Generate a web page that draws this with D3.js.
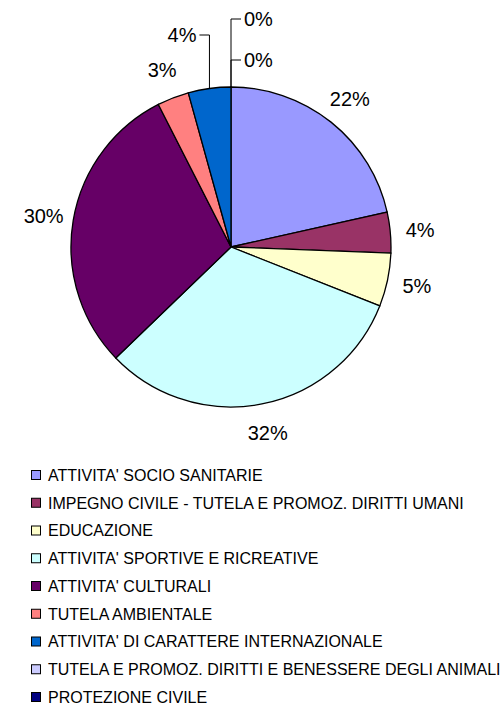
<!DOCTYPE html>
<html>
<head>
<meta charset="utf-8">
<script src="https://cdn.jsdelivr.net/npm/d3@7"></script>
<style>
  html, body { margin: 0; padding: 0; background: #fff; }
  svg { display: block; font-family: "Liberation Sans", Arial, sans-serif; }
  .slice { stroke: #000; stroke-width: 1.3; }
  .lbl { font-size: 20px; fill: #000; }
  .leader { stroke: #000; stroke-width: 1; fill: none; }
  .leg text { font-size: 16px; fill: #000; }
  .leg rect { stroke: #000; stroke-width: 1; }
</style>
</head>
<body>
<svg id="chart" width="502" height="705"></svg>
<script>
// ── Data ─────────────────────────────────────────────────────────
const categories = [
  "ATTIVITA' SOCIO SANITARIE",
  "IMPEGNO CIVILE - TUTELA E PROMOZ. DIRITTI UMANI",
  "EDUCAZIONE",
  "ATTIVITA' SPORTIVE E RICREATIVE",
  "ATTIVITA' CULTURALI",
  "TUTELA AMBIENTALE",
  "ATTIVITA' DI CARATTERE INTERNAZIONALE",
  "TUTELA E PROMOZ. DIRITTI E BENESSERE DEGLI ANIMALI",
  "PROTEZIONE CIVILE"
];
const values = [21.5, 4.1, 5.4, 31.8, 29.7, 3.2, 4.3, 0, 0];
const colors = ["#9999FF", "#993366", "#FFFFCC", "#CCFFFF", "#660066",
                "#FF8080", "#0066CC", "#CCCCFF", "#000080"];

// ── Config ───────────────────────────────────────────────────────
const CX = 231, CY = 247, R = 160;
const LABEL_R = 190;
// labels pulled out with a leader line: vertical offset of the elbow, side
const leaders = { 6: { dy: -212, side: -1 }, 7: { dy: -187, side: 1 }, 8: { dy: -228, side: 1 } };

const svg = d3.select("#chart");
const g = svg.append("g").attr("transform", `translate(${CX},${CY})`);

const pie = d3.pie().sort(null).value(d => d);
const arcs = pie(values);
const arc = d3.arc().innerRadius(0).outerRadius(R);

g.selectAll("path.slice")
  .data(arcs.filter(d => d.value > 0))
  .join("path")
  .attr("class", "slice")
  .attr("fill", d => colors[d.index])
  .attr("d", arc);

// ── Labels ───────────────────────────────────────────────────────
const pct = d3.format(".0f");
arcs.forEach(d => {
  const a = (d.startAngle + d.endAngle) / 2;
  const txt = pct(d.value) + "%";
  const ld = leaders[d.index];
  if (!ld) {
    g.append("text").attr("class", "lbl")
      .attr("x", Math.sin(a) * LABEL_R)
      .attr("y", -Math.cos(a) * LABEL_R)
      .attr("text-anchor", "middle")
      .attr("dy", "0.35em")
      .text(txt);
    return;
  }
  const px = Math.sin(a) * R, py = -Math.cos(a) * R;
  const ex = px + ld.side * 10;
  g.append("path").attr("class", "leader")
    .attr("d", `M${px},${py}L${px},${ld.dy}L${ex},${ld.dy}`);
  g.append("text").attr("class", "lbl")
    .attr("x", ex + ld.side * 3)
    .attr("y", ld.dy)
    .attr("dy", "0.35em")
    .attr("text-anchor", ld.side < 0 ? "end" : "start")
    .text(txt);
});

// ── Legend ───────────────────────────────────────────────────────
const legY = d3.scalePoint().domain(d3.range(categories.length)).range([475, 697]);
const leg = svg.append("g").attr("class", "leg");
const row = leg.selectAll("g").data(categories).join("g")
  .attr("transform", (d, i) => `translate(31,${legY(i)})`);
row.append("rect")
  .attr("x", 0.5).attr("y", -4.5).attr("width", 9).attr("height", 9)
  .attr("fill", (d, i) => colors[i]);
row.append("text")
  .attr("x", 17).attr("dy", "0.36em")
  .text(d => d);
</script>
</body>
</html>
